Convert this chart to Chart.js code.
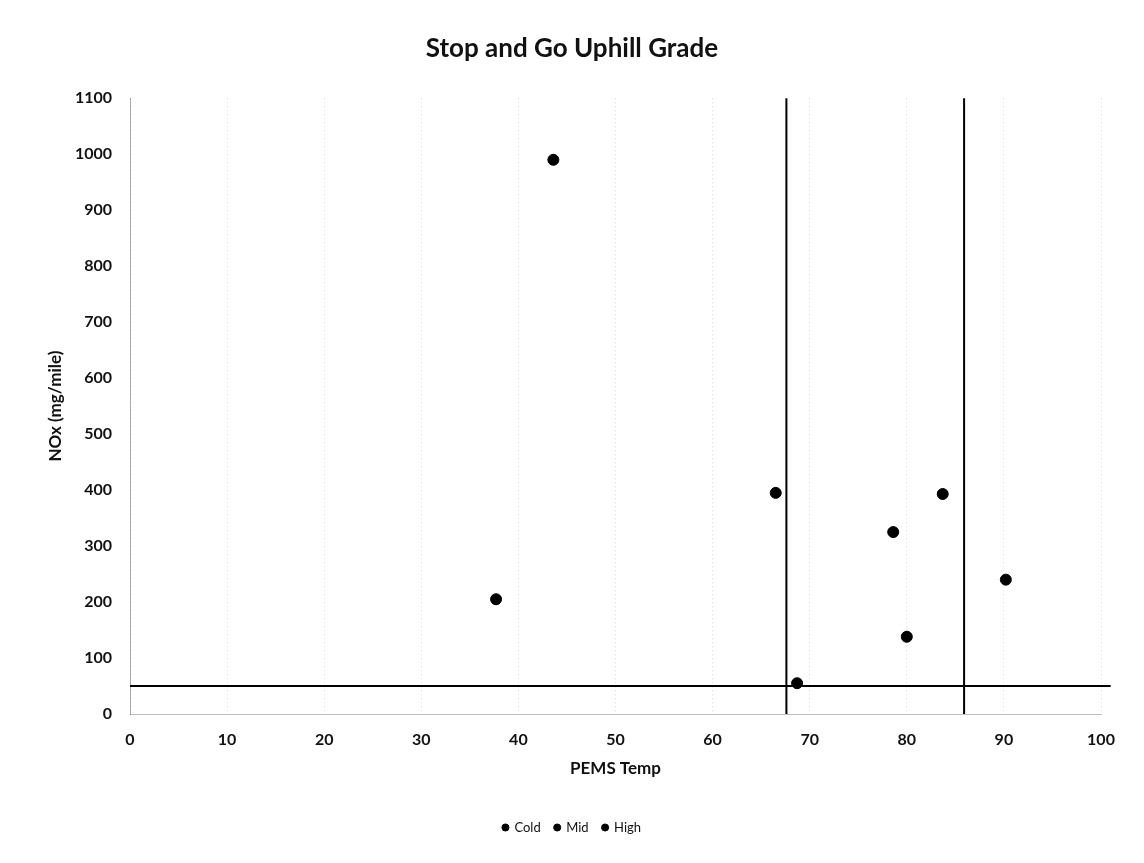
<!DOCTYPE html>
<html>
<head>
<meta charset="utf-8">
<script src="https://cdn.jsdelivr.net/npm/chart.js@4.4.0/dist/chart.umd.min.js"></script>
<style>
html,body{margin:0;padding:0;background:#fff;}
#wrap{width:1144px;height:863px;}
</style>
</head>
<body>
<div id="wrap"><canvas id="c" width="1144" height="863"></canvas></div>
<script>
// Data
const coldTemp = [43.6, 66.5, 37.7];
const coldNOx  = [990, 395, 205];
const midTemp  = [68.7, 78.6, 80.0, 83.7];
const midNOx   = [55, 325, 138, 393];
const highTemp = [90.2];
const highNOx  = [240];
const tempLimits = [67.6, 85.9];
const noxLimit = 50;
const xTicks = [0,10,20,30,40,50,60,70,80,90,100];
const yTicks = [0,100,200,300,400,500,600,700,800,900,1000,1100];

const pts = (xs, ys) => xs.map((x, i) => ({x: x, y: ys[i]}));
const FONT = "Lato, 'Open Sans', sans-serif";

const refSets = [
  {label: 'ref1', type: 'line', data: [{x: tempLimits[0], y: yTicks[0]}, {x: tempLimits[0], y: yTicks[yTicks.length-1]}]},
  {label: 'ref2', type: 'line', data: [{x: tempLimits[1], y: yTicks[0]}, {x: tempLimits[1], y: yTicks[yTicks.length-1]}]},
  {label: 'ref3', type: 'line', data: [{x: xTicks[0], y: noxLimit}, {x: xTicks[xTicks.length-1] + 1, y: noxLimit}]}
].map(d => Object.assign(d, {borderColor: '#000', borderWidth: 2, pointRadius: 0, showLine: true, fill: false, clip: false}));

new Chart(document.getElementById('c'), {
  type: 'scatter',
  data: {
    datasets: [
      {label: 'Cold', data: pts(coldTemp, coldNOx), backgroundColor: '#000', borderColor: '#000', pointRadius: 5.5},
      {label: 'Mid', data: pts(midTemp, midNOx), backgroundColor: '#000', borderColor: '#000', pointRadius: 5.5},
      {label: 'High', data: pts(highTemp, highNOx), backgroundColor: '#000', borderColor: '#000', pointRadius: 5.5},
      ...refSets
    ]
  },
  options: {
    responsive: false,
    animation: false,
    layout: {padding: {left: 21, right: 21, top: 0, bottom: 19}},
    plugins: {
      title: {
        display: true,
        text: 'Stop and Go Uphill Grade',
        color: '#111',
        font: {family: FONT, size: 26, weight: 'bold'},
        padding: {top: 33, bottom: 34}
      },
      legend: {
        position: 'bottom',
        labels: {
          usePointStyle: true,
          pointStyle: 'circle',
          boxWidth: 5,
          boxHeight: 5,
          padding: 14,
          color: '#111',
          font: {family: FONT, size: 13},
          filter: item => !item.text.startsWith('ref')
        }
      },
      tooltip: {enabled: false}
    },
    scales: {
      x: {
        type: 'linear',
        min: xTicks[0],
        max: xTicks[xTicks.length-1],
        afterBuildTicks: s => { s.ticks = xTicks.map(v => ({value: v})); },
        afterFit: s => { s.height = 93; },
        ticks: {color: '#111', padding: 16, font: {family: FONT, size: 16, weight: 'bold'}, callback: v => String(v)},
        grid: {drawTicks: false, color: 'rgba(0,0,0,0.15)', lineWidth: 1},
        border: {display: true, color: 'rgba(0,0,0,0.25)', dash: [1, 3]},
        title: {display: true, text: 'PEMS Temp', color: '#111', font: {family: FONT, size: 17, weight: 'bold'}, padding: {top: 0, bottom: 28}}
      },
      y: {
        type: 'linear',
        min: yTicks[0],
        max: yTicks[yTicks.length-1],
        afterBuildTicks: s => { s.ticks = yTicks.map(v => ({value: v})); },
        afterFit: s => { s.width = 109; },
        ticks: {color: '#111', padding: 18, font: {family: FONT, size: 16, weight: 'bold'}, callback: v => String(v)},
        grid: {display: false, drawTicks: false},
        border: {display: true, color: 'rgba(0,0,0,0.3)', dash: [1, 2]},
        title: {display: true, text: 'NOx (mg/mile)', color: '#111', font: {family: FONT, size: 17, weight: 'bold'}, padding: {top: 24, bottom: 0}}
      },
      spacer: {
        type: 'linear',
        position: 'right',
        display: true,
        afterFit: s => { s.width = 22; },
        ticks: {display: false},
        grid: {display: false, drawTicks: false},
        border: {display: false}
      }
    }
  },
  plugins: [{
    id: 'bg',
    beforeDraw: ch => { const c = ch.ctx; c.save(); c.fillStyle = '#fff'; c.fillRect(0, 0, ch.width, ch.height); c.restore(); }
  }]
});
</script>
</body>
</html>
